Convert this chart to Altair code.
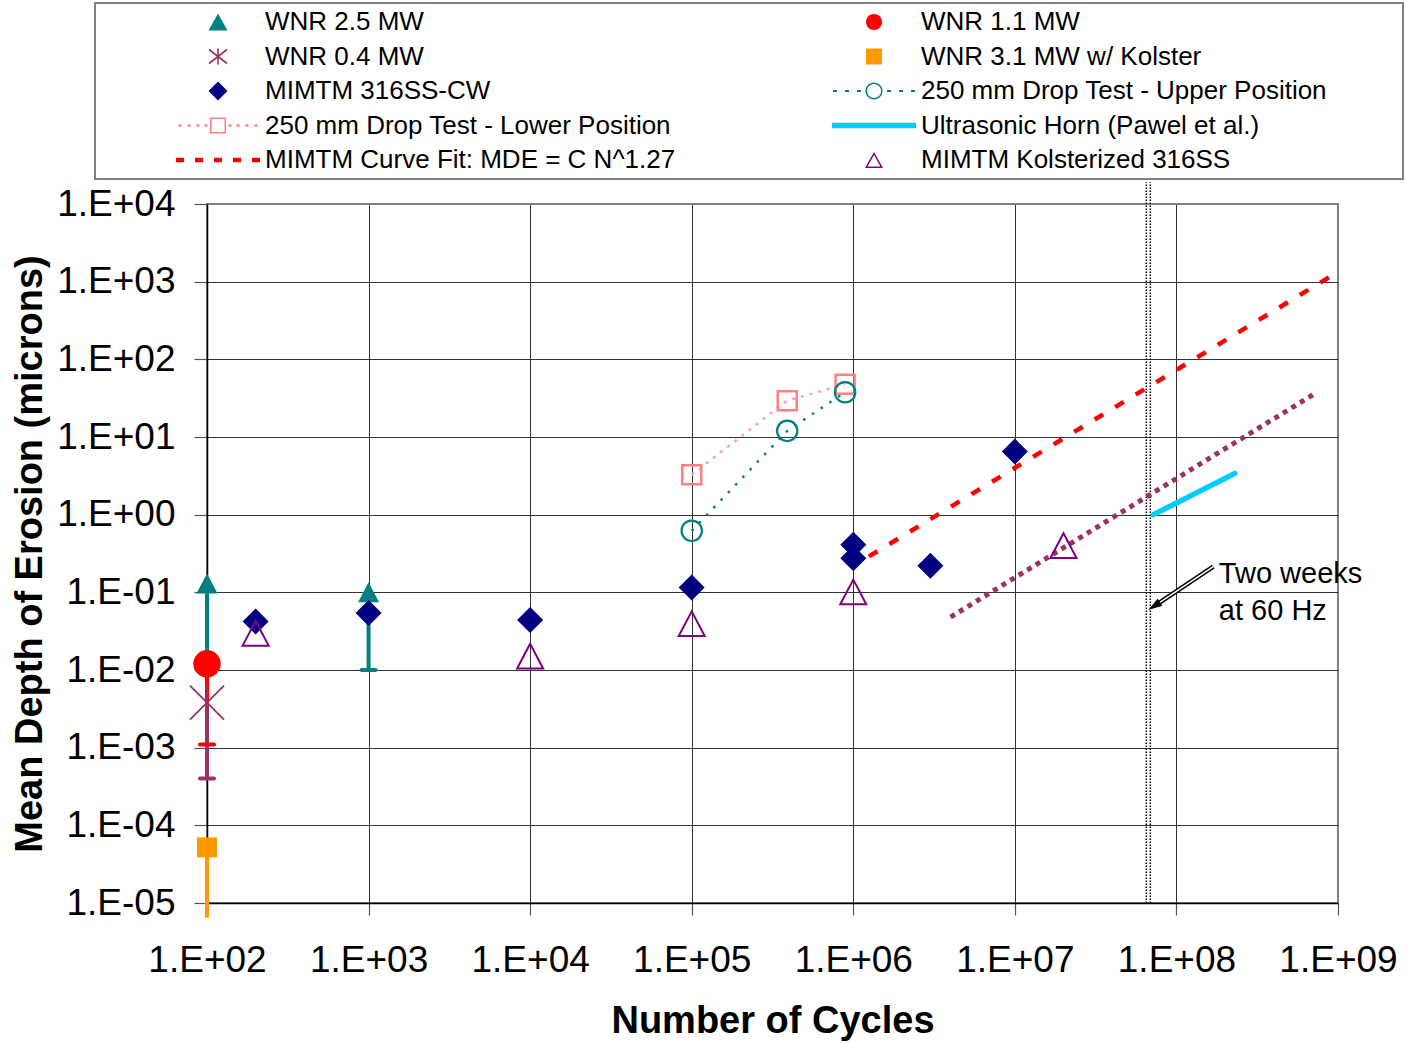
import math
import altair as alt
import pandas as pd

FONT = "Liberation Sans"

# ---------------- data ----------------
x_ticks = [1e2, 1e3, 1e4, 1e5, 1e6, 1e7, 1e8, 1e9]
y_ticks = [1e-5, 1e-4, 1e-3, 1e-2, 1e-1, 1e0, 1e1, 1e2, 1e3, 1e4]

# WNR beam tests (marker value and lower end of the error bar)
wnr25_x = [1e2, 1e3]
wnr25_y = [0.13, 0.10]
wnr25_lo = [0.012, 0.010]

wnr11_x = [1e2]
wnr11_y = [0.012]
wnr11_lo = [0.0011]

wnr04_x = [1e2]
wnr04_y = [0.0038]
wnr04_lo = [0.0004]

wnr31_x = [1e2]
wnr31_y = [5.2e-5]
wnr31_lo = [6.5e-6]

# MIMTM 316SS-CW
cw_x = [200, 1e3, 1e4, 1e5, 1e6, 1e6, 3.0e6, 1e7]
cw_y = [0.042, 0.054, 0.044, 0.115, 0.41, 0.275, 0.22, 6.5]

# MIMTM Kolsterized 316SS
kol_x = [200, 1e4, 1e5, 1e6, 2.0e7]
kol_y = [0.0297, 0.0151, 0.0394, 0.101, 0.40]

# 250 mm drop tests
lower_x = [1e5, 3.9e5, 8.9e5]
lower_y = [3.27, 29.3, 47.7]
upper_x = [1e5, 3.9e5, 8.9e5]
upper_y = [0.62, 12.0, 37.7]

# fits and ultrasonic horn
fit_x = [1.25e6, 9.0e8]
fit_y = [0.29, 1170]
kolfit_x = [4.0e6, 7.0e8]
kolfit_y = [0.048, 35]
horn_x = [7.2e7, 2.3e8]
horn_y = [1.0, 3.4]

# "Two weeks at 60 Hz" marker line, arrow and note
two_weeks_x = [6.7e7]
two_weeks_y0 = [1e-5]
two_weeks_y1 = [1.9e4]
arrow_x = [1.69e8, 7.73e7]
arrow_y = [0.214, 0.0721]
arrowhead_x = [7.28e7]
arrowhead_y = [0.0665]
note_x = [1.83e8, 1.83e8]
note_y = [0.1306, 0.0441]
note_text = ["Two weeks", "at 60 Hz"]

legend_labels = [
    "WNR 2.5 MW", "WNR 1.1 MW",
    "WNR 0.4 MW", "WNR 3.1 MW w/ Kolster",
    "MIMTM 316SS-CW", "250 mm Drop Test - Upper Position",
    "250 mm Drop Test - Lower Position", "Ultrasonic Horn (Pawel et al.)",
    "MIMTM Curve Fit: MDE = C N^1.27", "MIMTM Kolsterized 316SS",
]

# ---------------- colours ----------------
TEAL = "#008080"
RED = "#FF0000"
MAROON = "#993366"
ORANGE = "#FF9900"
NAVY = "#000080"
SALMON = "#FF8080"
PINK = "#FF99CC"
CYAN = "#00CCFF"
PURPLE = "#800080"

# ---------------- legend symbol paths (pixel geometry -> unit path) ----------------
LEG_SIZE = 26 * 26
U = 13.0


def area(p):
    return 0.5 * sum(p[i][0] * p[(i + 1) % len(p)][1] - p[(i + 1) % len(p)][0] * p[i][1] for i in range(len(p)))


def orient(p, positive=True):
    a = area(p)
    if (a > 0) != positive:
        p = list(reversed(p))
    return p


def poly(p):
    return "M" + "L".join(f"{x / U:.4f},{y / U:.4f}" for x, y in p) + "Z"


def solid(p):
    return poly(orient(p, True))


def hole(p):
    return poly(orient(p, False))


def rect(x0, y0, x1, y1):
    return [(x0, y0), (x1, y0), (x1, y1), (x0, y1)]


def seg(x0, y0, x1, y1, t):
    dx, dy = x1 - x0, y1 - y0
    L = math.hypot(dx, dy)
    nx, ny = -dy / L * t / 2, dx / L * t / 2
    return [(x0 + nx, y0 + ny), (x1 + nx, y1 + ny), (x1 - nx, y1 - ny), (x0 - nx, y0 - ny)]


def circ(r, n=32):
    return [(r * math.cos(2 * math.pi * k / n), r * math.sin(2 * math.pi * k / n)) for k in range(n)]


def tri_inner(p, t):
    (ax, ay), (bx, by), (cx, cy) = p
    a = math.hypot(bx - cx, by - cy)
    b = math.hypot(ax - cx, ay - cy)
    c = math.hypot(ax - bx, ay - by)
    s = a + b + c
    ix, iy = (a * ax + b * bx + c * cx) / s, (a * ay + b * by + c * cy) / s
    r = 2 * abs(area(p)) / s
    k = (r - t) / r
    return [(ix + (x - ix) * k, iy + (y - iy) * k) for x, y in p]


tri_fill = [(0, -8.5), (9.5, 8.5), (-9.5, 8.5)]
tri_open = [(0, -8), (9, 8), (-9, 8)]
legend_paths = [
    solid(tri_fill),
    solid(circ(8)),
    solid(seg(0, -8, 0, 8, 1.6)) + solid(seg(-9, -7, 9, 7, 1.6)) + solid(seg(-9, 7, 9, -7, 1.6)),
    solid(rect(-8, -8, 8, 8)),
    solid([(0, -9.5), (9.5, 0), (0, 9.5), (-9.5, 0)]),
    "".join(solid(rect(c - 2, -1, c + 2, 1)) for c in [-39, -27, -15, 15, 27, 39])
    + solid(circ(8.5)) + hole(circ(7.0)),
    "".join(solid(rect(c - 1.5, -1.2, c + 1.5, 1.2)) for c in [-38, -29, -20, -12, 12, 20, 29, 38])
    + solid(rect(-8, -8, 8, 8)) + hole(rect(-6.5, -6.5, 6.5, 6.5)),
    solid(rect(-42, -2.8, 42, 2.8)),
    "".join(solid(rect(a, -2.25, b, 2.25)) for a, b in [(-42, -34), (-23, -15), (-4, 4), (15, 23), (34, 42)]),
    solid(tri_open) + hole(tri_inner(tri_open, 1.5)),
]
legend_fills = [TEAL, RED, MAROON, ORANGE, NAVY, TEAL, SALMON, CYAN, RED, PURPLE]

# ---------------- scales and axes ----------------
LABEL_EXPR = ("'1.E' + (round(log(datum.value)/LN10) < 0 ? '-' : '+') + "
              "(abs(round(log(datum.value)/LN10)) < 10 ? '0' : '') + abs(round(log(datum.value)/LN10))")

xscale = alt.Scale(type="log", domain=[1e2, 1e9], nice=False)
yscale = alt.Scale(type="log", domain=[1e-5, 1e4], nice=False)

common_axis = dict(
    labelExpr=LABEL_EXPR, labelFont=FONT, labelFontSize=37, labelColor="black",
    titleFont=FONT, titleFontSize=38, titleFontWeight="bold", titleColor="black",
    tickColor="#555555", tickWidth=1.2, domainColor="black", domainWidth=1.5,
    grid=True, gridWidth=1, labelOverlap=False, labelFlush=False,
)
xaxis = alt.Axis(
    values=x_ticks, title="Number of Cycles", tickSize=12, labelPadding=27, titlePadding=24,
    gridColor=alt.condition("datum.value >= 9.9e8", alt.value("#808080"), alt.value("#333333")),
    **common_axis,
)
yaxis = alt.Axis(
    values=y_ticks, title="Mean Depth of Erosion (microns)", tickSize=13, labelPadding=19, titlePadding=7,
    gridColor=alt.condition("datum.value >= 9.9e3", alt.value("#808080"), alt.value("#333333")),
    **common_axis,
)


def X(f="x"):
    return alt.X(f"{f}:Q", scale=xscale, axis=xaxis)


def Y(f="y"):
    return alt.Y(f"{f}:Q", scale=yscale, axis=yaxis)


def frame(**cols):
    return pd.DataFrame(cols)


# ---------------- layers ----------------
tw = frame(x=two_weeks_x, y=two_weeks_y0, y2=two_weeks_y1)
two_weeks_a = alt.Chart(tw).mark_rule(color="black", strokeWidth=1.5, strokeDash=[1.5, 1.5], xOffset=-2).encode(
    x=X(), y=Y(), y2=alt.Y2("y2"))
two_weeks_b = alt.Chart(tw).mark_rule(color="black", strokeWidth=1.5, strokeDash=[1.5, 1.5], xOffset=2).encode(
    x=X(), y=Y(), y2=alt.Y2("y2"))

kolfit = alt.Chart(frame(x=kolfit_x, y=kolfit_y)).mark_line(
    color=MAROON, strokeWidth=5, strokeDash=[5, 5]).encode(x=X(), y=Y())
fit = alt.Chart(frame(x=fit_x, y=fit_y)).mark_line(
    color=RED, strokeWidth=4.5, strokeDash=[10, 14]).encode(x=X(), y=Y())
horn = alt.Chart(frame(x=horn_x, y=horn_y)).mark_line(
    color=CYAN, strokeWidth=5.5, strokeCap="round").encode(x=X(), y=Y())

lower_line = alt.Chart(frame(x=lower_x, y=lower_y)).mark_line(
    color=PINK, strokeWidth=2.5, strokeDash=[3, 6]).encode(x=X(), y=Y())
upper_line = alt.Chart(frame(x=upper_x, y=upper_y)).mark_line(
    color=TEAL, strokeWidth=2.5, strokeDash=[2.5, 8]).encode(x=X(), y=Y())

bars = frame(
    x=wnr25_x + wnr11_x + wnr04_x + wnr31_x,
    y=wnr25_y + wnr11_y + wnr04_y + wnr31_y,
    lo=wnr25_lo + wnr11_lo + wnr04_lo + wnr31_lo,
    c=[TEAL] * len(wnr25_x) + [RED] * len(wnr11_x) + [MAROON] * len(wnr04_x) + [ORANGE] * len(wnr31_x),
)
err = alt.Chart(bars).mark_rule(strokeWidth=4).encode(
    x=X(), y=Y(), y2=alt.Y2("lo"), color=alt.Color("c:N", scale=None))
caps_df = bars[bars["c"] != ORANGE]
caps = alt.Chart(caps_df).mark_tick(orient="horizontal", thickness=4, size=18, cornerRadius=2, opacity=1).encode(
    x=X(), y=Y("lo"), color=alt.Color("c:N", scale=None))

TRI = "M0,-0.95L1,0.95L-1,0.95Z"
ASTERISK = "M0,-1L0,1M-1,-1L1,1M-1,1L1,-1"

pt = dict(opacity=1)
cw = alt.Chart(frame(x=cw_x, y=cw_y)).mark_point(
    shape="diamond", size=676, filled=True, color=NAVY, **pt).encode(x=X(), y=Y())
kol = alt.Chart(frame(x=kol_x, y=kol_y)).mark_point(
    shape=TRI, size=676, filled=False, color=PURPLE, strokeWidth=2, **pt).encode(x=X(), y=Y())
lower_pts = alt.Chart(frame(x=lower_x, y=lower_y)).mark_point(
    shape="square", size=361, filled=False, color=SALMON, strokeWidth=2.5, **pt).encode(x=X(), y=Y())
upper_pts = alt.Chart(frame(x=upper_x, y=upper_y)).mark_point(
    shape="circle", size=415, filled=False, color=TEAL, strokeWidth=2.2, **pt).encode(x=X(), y=Y())

wnr25 = alt.Chart(frame(x=wnr25_x, y=wnr25_y)).mark_point(
    shape=TRI, size=441, filled=True, color=TEAL, **pt).encode(x=X(), y=Y())
wnr11 = alt.Chart(frame(x=wnr11_x, y=wnr11_y)).mark_point(
    shape="circle", size=755, filled=True, color=RED, **pt).encode(x=X(), y=Y())
wnr04 = alt.Chart(frame(x=wnr04_x, y=wnr04_y)).mark_point(
    shape=ASTERISK, size=1156, filled=False, color=MAROON, strokeWidth=1.8, **pt).encode(x=X(), y=Y())
wnr31 = alt.Chart(frame(x=wnr31_x, y=wnr31_y)).mark_point(
    shape="square", size=400, filled=True, color=ORANGE, **pt).encode(x=X(), y=Y())

arrow_df = frame(x=arrow_x, y=arrow_y)
arrow_outer = alt.Chart(arrow_df).mark_line(color="black", strokeWidth=4.5).encode(x=X(), y=Y())
arrow_inner = alt.Chart(arrow_df).mark_line(color="white", strokeWidth=1.5).encode(x=X(), y=Y())
arrow_head = alt.Chart(frame(x=arrowhead_x, y=arrowhead_y)).mark_point(
    shape="M0,-1L0.6,1L-0.6,1Z", size=196, angle=236.3, filled=True, color="black", **pt).encode(x=X(), y=Y())

note = alt.Chart(frame(x=note_x, y=note_y, t=note_text)).mark_text(
    align="left", baseline="alphabetic", font=FONT, fontSize=29, color="black").encode(
    x=X(), y=Y(), text="t:N")

legend = alt.Legend(
    title=" ", titleOrient="right", titlePadding=70, titleFont=FONT, titleFontSize=26,
    orient="none", legendX=-112, legendY=-201, direction="horizontal",
    columns=2, columnPadding=81, rowPadding=8.5,
    symbolSize=LEG_SIZE, symbolStrokeWidth=0, symbolOffset=104, labelOffset=34,
    labelFont=FONT, labelFontSize=26, labelColor="black", labelLimit=900,
    strokeColor="#808080", padding=6, fillColor="white",
)
leg_df = pd.DataFrame({"series": legend_labels, "x": [float("nan")] * len(legend_labels),
                       "y": [float("nan")] * len(legend_labels)})
legend_layer = alt.Chart(leg_df).mark_point(filled=True, opacity=1, strokeWidth=0).encode(
    x=X(), y=Y(),
    shape=alt.Shape("series:N", scale=alt.Scale(domain=legend_labels, range=legend_paths), legend=legend),
    fill=alt.Fill("series:N", scale=alt.Scale(domain=legend_labels, range=legend_fills), legend=legend),
)

chart = alt.layer(
    two_weeks_a, two_weeks_b, kolfit, fit, horn, lower_line, upper_line,
    err, caps, wnr25, wnr11, wnr04, wnr31, cw, kol, lower_pts, upper_pts,
    arrow_outer, arrow_inner, arrow_head, note, legend_layer,
).properties(
    width=1131, height=699,
    autosize=alt.AutoSizeParams(type="none"),
    padding={"left": 207, "top": 204, "right": 68, "bottom": 140},
    background="white",
).configure_view(stroke="#808080", strokeWidth=2).configure_legend(strokeWidth=2)

chart.save("out.html", embed_options={"renderer": "svg", "actions": False})
